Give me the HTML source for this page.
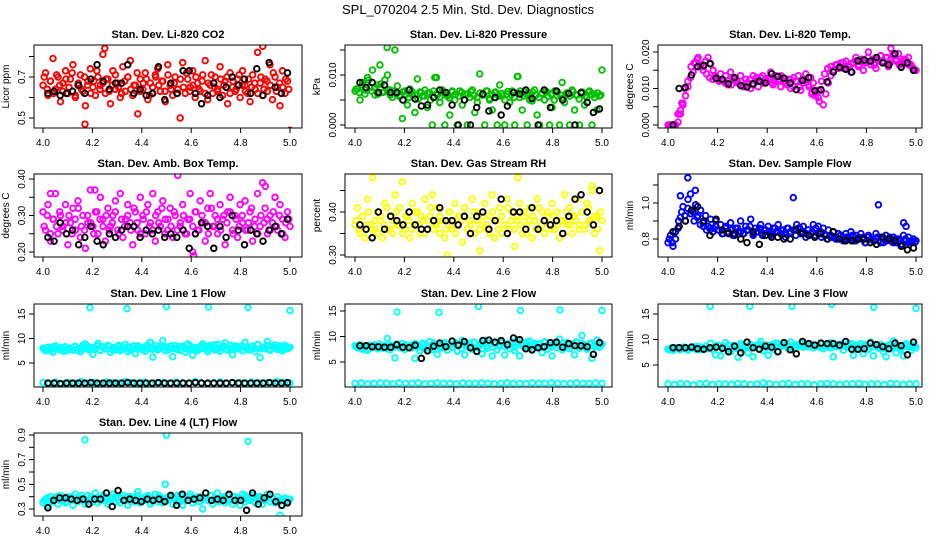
<!DOCTYPE html>
<html><head><meta charset="utf-8">
<style>
html,body{margin:0;padding:0;background:#fff;}
svg{display:block;font-family:"Liberation Sans",sans-serif;}
</style></head>
<body>
<svg id="chart" width="936" height="540" viewBox="0 0 936 540" xmlns="http://www.w3.org/2000/svg">
<rect x="0" y="0" width="936" height="540" fill="#fff"/>
<text x="468" y="14" text-anchor="middle" font-size="13">SPL_070204  2.5 Min. Std. Dev. Diagnostics</text>
</svg>
<script>
// ---- data arrays (y values; main series evenly spaced in time 4.0..5.0) ----
const co2Main=[0.66,0.72,0.61,0.68,0.79,0.64,0.70,0.58,0.67,0.73,0.62,0.69,0.76,0.60,0.66,0.71,0.63,0.56,0.68,0.74,0.65,0.61,0.70,0.66,0.81,0.62,0.69,0.57,0.73,0.64,0.67,0.60,0.75,0.63,0.70,0.78,0.61,0.66,0.52,0.69,0.64,0.72,0.59,0.67,0.62,0.71,0.74,0.63,0.68,0.58,0.76,0.66,0.61,0.70,0.64,0.50,0.77,0.62,0.69,0.65,0.73,0.60,0.67,0.63,0.71,0.78,0.59,0.66,0.62,0.70,0.64,0.75,0.61,0.68,0.57,0.72,0.65,0.63,0.69,0.60,0.73,0.66,0.62,0.58,0.71,0.64,0.82,0.67,0.61,0.69,0.63,0.76,0.59,0.70,0.65,0.56,0.73,0.62,0.68,0.44];
const co2MainB=[0.70,0.64,0.68,0.62,0.71,0.66,0.63,0.69,0.65,0.72,0.61,0.67,0.64,0.70,0.66,0.62,0.68,0.73,0.64,0.67,0.69,0.63,0.66,0.71,0.65,0.62,0.68,0.70,0.64,0.66,0.72,0.63,0.67,0.69,0.61,0.65,0.70,0.66,0.68,0.63,0.71,0.64,0.67,0.62,0.69,0.65,0.72,0.63,0.66,0.70,0.64,0.68,0.62,0.67,0.71,0.65,0.63,0.69,0.66,0.70,0.62,0.68,0.64,0.71,0.66,0.63,0.69,0.65,0.67,0.62,0.70,0.64,0.68,0.66,0.72,0.63,0.67,0.65,0.69,0.64];
const co2Black=[0.62,0.63,0.61,0.62,0.63,0.66,0.62,0.69,0.76,0.68,0.64,0.67,0.67,0.76,0.62,0.64,0.61,0.62,0.75,0.59,0.67,0.62,0.73,0.73,0.62,0.57,0.61,0.67,0.60,0.65,0.70,0.66,0.69,0.62,0.74,0.61,0.77,0.65,0.62,0.72];
const co2OutX=[4.17,4.25,4.89];
const co2OutY=[0.47,0.84,0.85];

const presMain=[0.0068,0.0072,0.0050,0.0085,0.0062,0.0095,0.0075,0.0110,0.0060,0.0080,0.0120,0.0065,0.0090,0.0100,0.0070,0.0055,0.0150,0.0078,0.0060,0.0013,0.0068,0.0040,0.0072,0.0060,0.0025,0.0092,0.0066,0.0058,0.0070,0.0035,0.0064,0.0000,0.0095,0.0060,0.0045,0.0070,0.0000,0.0058,0.0020,0.0066,0.0050,0.0000,0.0068,0.0040,0.0062,0.0000,0.0055,0.0070,0.0025,0.0045,0.0102,0.0060,0.0000,0.0068,0.0050,0.0030,0.0065,0.0000,0.0080,0.0058,0.0000,0.0062,0.0045,0.0068,0.0000,0.0097,0.0055,0.0030,0.0066,0.0000,0.0060,0.0048,0.0070,0.0020,0.0000,0.0062,0.0050,0.0066,0.0000,0.0035,0.0068,0.0058,0.0000,0.0085,0.0045,0.0062,0.0000,0.0070,0.0030,0.0060,0.0000,0.0066,0.0040,0.0055,0.0068,0.0000,0.0062,0.0030,0.0058,0.0110];
const presMainB=[0.0072,0.0065,0.0080,0.0070,0.0090,0.0068,0.0075,0.0062,0.0082,0.0066,0.0071,0.0060,0.0068,0.0063,0.0057,0.0066,0.0061,0.0055,0.0067,0.0060,0.0052,0.0065,0.0058,0.0063,0.0050,0.0068,0.0062,0.0056,0.0066,0.0060,0.0054,0.0068,0.0061,0.0058,0.0065,0.0050,0.0062,0.0067,0.0059,0.0055,0.0064,0.0060,0.0068,0.0053,0.0061,0.0066,0.0058,0.0063,0.0050,0.0067,0.0060,0.0055,0.0064,0.0068,0.0058,0.0062,0.0050,0.0066,0.0060,0.0055,0.0064,0.0068,0.0057,0.0062,0.0050,0.0066,0.0060,0.0054,0.0064,0.0058,0.0067,0.0060,0.0052,0.0064,0.0058,0.0066,0.0061,0.0055,0.0064,0.0060];
const presBlack=[0.0085,0.0075,0.0085,0.0065,0.0080,0.0065,0.0065,0.0050,0.0070,0.0052,0.0038,0.0040,0.0055,0.0070,0.0065,0.0040,0.0000,0.0050,0.0000,0.0035,0.0062,0.0028,0.0055,0.0020,0.0038,0.0065,0.0062,0.0070,0.0053,0.0000,0.0070,0.0035,0.0068,0.0050,0.0063,0.0000,0.0065,0.0045,0.0025,0.0032];
const presOutX=[4.13,4.33,4.66];
const presOutY=[0.0155,0.0095,0.0097];

const tempMain=[0,0,0,0,0.0008,0.004,0.0055,0.008,0.0105,0.013,0.0145,0.017,0.0185,0.0165,0.016,0.0175,0.0185,0.0168,0.015,0.0135,0.0125,0.014,0.012,0.0135,0.011,0.0145,0.013,0.012,0.0115,0.0135,0.0105,0.0125,0.0115,0.010,0.0135,0.012,0.0105,0.013,0.0115,0.012,0.0125,0.0145,0.011,0.0135,0.012,0.0105,0.013,0.0115,0.0125,0.010,0.0105,0.012,0.0135,0.0095,0.0125,0.014,0.011,0.0130,0.0115,0.009,0.0075,0.0095,0.0055,0.0085,0.0115,0.0135,0.015,0.0165,0.0155,0.017,0.0155,0.0175,0.016,0.0145,0.017,0.0185,0.016,0.0175,0.015,0.0175,0.020,0.0165,0.018,0.0155,0.0175,0.019,0.017,0.0185,0.016,0.021,0.019,0.0175,0.0195,0.0165,0.018,0.017,0.0185,0.0165,0.0155,0.015];
const tempMainB=[0,0,0,0.003,0.006,0.010,0.012,0.016,0.017,0.018,0.016,0.015,0.014,0.013,0.0125,0.013,0.012,0.0125,0.0115,0.012,0.011,0.0125,0.0115,0.012,0.0105,0.0115,0.0125,0.011,0.013,0.012,0.0135,0.0125,0.013,0.0115,0.012,0.0125,0.0135,0.012,0.011,0.0125,0.013,0.012,0.0105,0.0115,0.0125,0.0105,0.009,0.008,0.0095,0.012,0.014,0.0155,0.016,0.015,0.0165,0.016,0.017,0.0155,0.016,0.017,0.0175,0.0165,0.018,0.017,0.0185,0.0175,0.0165,0.018,0.019,0.0175,0.0185,0.017,0.0195,0.018,0.0165,0.0175,0.018,0.0165,0.016,0.015];
const tempBlack=[0,0.0100,0.0103,0.0137,0.0160,0.0163,0.0168,0.0128,0.0125,0.0113,0.0130,0.0108,0.0104,0.0113,0.0120,0.0115,0.0140,0.0133,0.0128,0.0115,0.0097,0.0122,0.0130,0.0094,0.0097,0.0118,0.0145,0.0158,0.0153,0.0145,0.0176,0.0178,0.0175,0.0185,0.0170,0.0165,0.0195,0.0158,0.0170,0.0150];
const tempOutX=[4.02,4.03,4.04,4.05,4.06,4.58,4.61];
const tempOutY=[0.0,0.0,0.003,0.003,0.006,0.0085,0.0065];

const ambMain=[0.31,0.26,0.33,0.23,0.29,0.36,0.25,0.30,0.27,0.33,0.22,0.28,0.32,0.26,0.34,0.24,0.30,0.21,0.28,0.37,0.27,0.31,0.25,0.35,0.29,0.23,0.32,0.27,0.30,0.34,0.26,0.36,0.24,0.29,0.33,0.28,0.22,0.31,0.26,0.35,0.30,0.25,0.33,0.28,0.36,0.23,0.31,0.27,0.34,0.29,0.26,0.32,0.24,0.30,0.41,0.27,0.33,0.25,0.29,0.36,0.20,0.31,0.26,0.34,0.28,0.23,0.32,0.36,0.27,0.30,0.25,0.33,0.29,0.22,0.31,0.35,0.26,0.30,0.24,0.33,0.28,0.34,0.26,0.31,0.23,0.29,0.36,0.27,0.39,0.32,0.25,0.30,0.28,0.35,0.26,0.33,0.29,0.24,0.31,0.27];
const ambMainB=[0.27,0.30,0.25,0.29,0.27,0.31,0.26,0.28,0.30,0.25,0.29,0.32,0.27,0.26,0.30,0.28,0.25,0.31,0.29,0.27,0.30,0.26,0.28,0.31,0.25,0.29,0.27,0.30,0.26,0.32,0.28,0.25,0.29,0.31,0.27,0.26,0.30,0.28,0.32,0.25,0.29,0.27,0.31,0.26,0.28,0.30,0.25,0.29,0.27,0.31,0.26,0.30,0.28,0.25,0.32,0.27,0.29,0.26,0.30,0.28,0.31,0.25,0.29,0.27,0.30,0.26,0.28,0.32,0.27,0.25,0.30,0.28,0.29,0.26,0.31,0.27,0.30,0.25,0.28,0.29];
const ambBlack=[0.24,0.23,0.28,0.25,0.26,0.22,0.24,0.27,0.23,0.22,0.25,0.24,0.26,0.27,0.27,0.24,0.26,0.25,0.26,0.24,0.25,0.24,0.26,0.21,0.25,0.28,0.27,0.21,0.27,0.24,0.30,0.26,0.22,0.26,0.25,0.23,0.26,0.27,0.25,0.29];
const ambOutX=[4.03,4.21,4.61,4.9];
const ambOutY=[0.36,0.37,0.19,0.38];

const rhMain=[0.37,0.41,0.35,0.39,0.34,0.43,0.37,0.48,0.36,0.40,0.38,0.34,0.42,0.36,0.39,0.35,0.44,0.37,0.41,0.47,0.36,0.39,0.34,0.42,0.37,0.40,0.35,0.38,0.43,0.36,0.39,0.44,0.37,0.41,0.35,0.38,0.34,0.30,0.40,0.36,0.42,0.37,0.39,0.33,0.41,0.36,0.38,0.43,0.35,0.40,0.31,0.37,0.42,0.36,0.39,0.44,0.34,0.38,0.41,0.35,0.37,0.43,0.36,0.40,0.32,0.38,0.42,0.35,0.39,0.37,0.41,0.34,0.38,0.43,0.36,0.40,0.35,0.39,0.37,0.42,0.36,0.40,0.34,0.38,0.44,0.37,0.41,0.35,0.39,0.43,0.37,0.40,0.36,0.42,0.38,0.45,0.35,0.39,0.31,0.38];
const rhMainB=[0.38,0.36,0.39,0.37,0.40,0.36,0.38,0.35,0.39,0.37,0.41,0.36,0.38,0.40,0.37,0.35,0.39,0.38,0.36,0.40,0.37,0.39,0.35,0.38,0.41,0.36,0.37,0.39,0.38,0.36,0.40,0.37,0.35,0.39,0.38,0.41,0.36,0.37,0.40,0.38,0.36,0.39,0.37,0.35,0.40,0.38,0.36,0.39,0.37,0.41,0.38,0.36,0.39,0.37,0.40,0.35,0.38,0.39,0.36,0.41,0.37,0.38,0.40,0.36,0.39,0.37,0.38,0.35,0.40,0.37,0.39,0.38,0.36,0.40,0.37,0.41,0.38,0.39,0.36,0.40];
const rhBlack=[0.37,0.36,0.34,0.40,0.36,0.39,0.38,0.37,0.40,0.37,0.36,0.36,0.38,0.41,0.38,0.38,0.37,0.39,0.35,0.39,0.40,0.36,0.38,0.43,0.35,0.40,0.40,0.36,0.41,0.36,0.38,0.37,0.38,0.35,0.39,0.43,0.44,0.40,0.37,0.45];
const rhOutX=[4.66,4.96];
const rhOutY=[0.48,0.46];

const flowMain=[0.78,0.82,0.76,0.80,0.86,0.92,0.98,0.90,1.02,1.05,0.95,0.99,0.93,0.96,0.89,0.93,0.87,0.91,0.86,0.90,0.85,0.88,0.83,0.87,0.84,0.89,0.82,0.86,0.84,0.90,0.83,0.87,0.85,0.91,0.82,0.86,0.84,0.88,0.83,0.85,0.87,0.82,0.86,0.84,0.88,0.83,0.85,0.81,0.86,0.84,1.03,0.82,0.86,0.83,0.87,0.81,0.85,0.83,0.88,0.86,0.87,0.84,0.86,0.82,0.85,0.81,0.84,0.80,0.83,0.82,0.80,0.83,0.81,0.84,0.79,0.82,0.80,0.83,0.81,0.78,0.82,0.80,0.79,0.83,0.99,0.81,0.78,0.82,0.80,0.79,0.81,0.78,0.80,0.77,0.82,0.79,0.81,0.78,0.80,0.79];
const flowMainB=[0.80,0.78,0.84,0.90,0.95,0.93,0.97,0.94,0.90,0.92,0.88,0.87,0.85,0.86,0.84,0.87,0.85,0.83,0.86,0.84,0.85,0.82,0.86,0.84,0.83,0.85,0.87,0.83,0.84,0.86,0.82,0.85,0.84,0.83,0.86,0.84,0.85,0.83,0.86,0.84,0.85,0.88,0.86,0.84,0.83,0.82,0.84,0.82,0.83,0.81,0.82,0.80,0.82,0.81,0.80,0.82,0.79,0.81,0.80,0.82,0.79,0.81,0.80,0.78,0.81,0.80,0.79,0.81,0.78,0.80,0.79,0.81,0.78,0.80,0.79,0.77,0.80,0.78,0.79,0.78];
const flowBlack=[0.84,0.87,0.90,0.96,0.98,0.90,0.82,0.91,0.85,0.83,0.83,0.80,0.78,0.84,0.77,0.82,0.81,0.81,0.80,0.80,0.85,0.83,0.82,0.81,0.83,0.80,0.84,0.80,0.79,0.79,0.80,0.80,0.78,0.77,0.81,0.80,0.79,0.76,0.74,0.75];
const flowOutX=[4.08,4.11,4.05,4.95,4.96];
const flowOutY=[1.14,1.07,1.04,0.89,0.87];

const line1Main=[8.0,7.5,8.2,7.8,7.2,8.5,7.9,8.1,7.4,8.3,7.7,8.0,7.6,8.4,7.9,7.3,8.6,8.9,7.8,8.2,6.8,8.0,9.0,7.6,8.3,7.9,8.6,7.2,8.1,7.7,8.4,7.5,8.0,8.8,7.3,8.2,7.8,6.9,8.5,7.9,8.1,7.4,8.7,9.2,6.2,8.0,7.7,8.4,9.6,7.5,8.2,7.9,6.3,8.6,8.0,7.6,8.3,7.2,8.9,7.8,6.6,8.1,7.5,8.4,8.9,7.9,7.3,8.6,8.0,7.7,8.8,7.4,8.2,9.1,7.6,8.0,6.7,8.5,7.9,8.3,7.5,9.2,8.1,7.7,8.4,7.3,8.8,6.1,8.2,7.9,9.4,7.6,8.3,8.7,7.8,8.1,7.5,8.6,7.9,8.2];
const line1MainB=[7.8,8.1,7.6,8.3,7.9,7.7,8.2,7.5,8.0,7.8,8.4,7.6,8.1,7.9,8.3,7.7,8.0,8.5,7.6,8.2,7.9,8.4,7.7,8.1,8.6,7.8,8.0,8.3,7.6,8.5,7.9,8.2,7.7,8.4,8.0,7.8,8.6,7.9,8.1,8.3,7.7,8.5,8.0,7.8,8.4,8.2,7.9,8.6,8.1,7.7,8.3,8.0,8.5,7.8,8.2,8.7,7.9,8.1,8.4,7.8,8.6,8.0,8.3,7.9,8.5,8.1,7.7,8.4,8.0,8.8,7.9,8.2,8.6,7.8,8.3,8.0,8.5,7.9,8.2,8.1];
const line1Low=[1.0,0.9,1.1,0.8,1.0,0.9,1.2,0.9,1.0,0.8,1.1,1.0,0.9,1.2,1.0,0.9,1.1,0.8,1.0,1.0,0.9,1.1,1.0,0.9,1.2,1.0,0.8,1.0,1.1,0.9,1.0,1.0,0.9,1.1,1.0,0.9,1.0,1.2,1.0,0.9];
const line1Black=[0.9,0.9,0.8,0.9,0.9,0.9,0.9,1.0,0.9,0.9,0.9,0.9,0.9,1.0,0.9,0.9,0.9,0.9,1.0,0.9,0.9,0.9,0.9,0.9,1.0,0.9,0.9,0.9,0.9,0.9,1.0,0.9,0.9,0.9,0.9,0.9,1.0,0.9,0.9,1.0];
const line1OutX=[4.19,4.34,4.5,4.67,4.83,5.0];
const line1OutY=[16.3,16.1,16.5,16.4,16.3,15.7];

const line2Main=[8.2,7.8,8.4,7.5,8.0,7.3,8.3,7.9,8.1,7.6,8.5,7.7,8.2,9.6,7.4,8.0,5.8,8.3,7.8,8.6,7.5,8.1,7.9,8.4,5.7,8.0,7.2,8.7,7.6,8.2,9.0,7.4,8.5,6.5,8.1,7.8,8.8,7.3,8.3,7.9,8.6,7.1,8.4,9.2,6.4,8.0,8.7,7.5,8.9,7.8,8.2,6.6,9.3,7.7,8.5,6.2,8.8,7.4,8.1,9.0,6.4,8.3,7.6,8.9,7.2,9.4,6.2,8.5,7.8,8.2,9.1,7.3,8.6,7.9,8.4,6.8,9.0,7.5,8.3,6.2,8.7,7.8,9.5,7.4,8.1,8.8,7.6,8.4,6.4,8.9,7.7,10.2,8.2,7.5,8.6,5.7,8.0,9.3,7.9,8.5];
const line2MainB=[8.0,8.3,7.9,8.2,7.7,8.1,8.4,7.8,8.0,8.2,7.6,8.3,7.9,8.5,8.0,7.7,8.4,8.1,7.8,8.6,8.2,7.9,8.5,8.0,7.7,8.7,8.3,7.8,8.6,8.1,8.4,7.9,8.8,8.2,7.7,8.5,8.3,8.0,8.9,7.8,8.4,8.6,8.1,8.7,7.9,8.5,8.2,8.8,8.0,8.6,8.3,7.9,8.7,8.4,8.1,8.9,7.8,8.5,8.2,8.6,8.0,8.8,8.3,7.9,8.6,8.4,8.1,8.7,7.8,8.5,8.2,8.9,8.0,8.6,8.3,7.9,8.7,8.4,8.1,8.6];
const line2Low=[0.8,0.9,0.7,0.8,0.9,0.8,0.7,0.9,0.8,0.8,0.9,0.7,0.8,0.9,0.8,0.8,0.7,0.9,0.8,0.8,0.9,0.8,0.7,0.8,0.9,0.8,0.8,0.7,0.9,0.8,0.8,0.9,0.8,0.7,0.8,0.9,0.8,0.8,0.9,0.8];
const line2Black=[8.2,8.2,8.0,8.0,7.9,7.9,8.4,7.9,7.8,8.3,5.7,7.2,8.1,8.7,8.0,9.1,8.3,9.0,7.8,7.1,9.2,9.3,8.9,9.2,8.4,9.7,9.4,7.6,7.4,7.8,8.0,8.8,8.9,7.9,8.6,8.2,8.2,8.0,6.5,8.8];
const line2OutX=[4.17,4.34,4.5,4.67,4.83,5.0];
const line2OutY=[14.8,14.7,15.9,15.1,15.2,15.1];

const line3Main=[8.1,8.3,7.9,8.4,8.2,8.0,8.5,8.2,7.9,8.3,8.4,8.1,8.6,8.0,8.3,8.7,8.2,9.3,8.0,7.0,8.9,6.8,8.5,9.4,8.1,7.6,8.8,8.3,6.5,9.2,8.0,8.6,7.4,9.0,6.6,8.7,8.2,9.6,7.8,8.4,6.9,8.9,8.1,9.3,7.6,8.6,8.8,9.0,8.2,9.5,8.4,8.9,8.7,9.2,8.5,9.0,8.6,9.1,8.4,8.8,8.7,9.3,8.2,8.9,8.5,9.4,6.6,8.6,8.8,9.1,7.9,8.7,9.3,8.3,6.9,8.9,8.4,9.2,7.2,8.6,8.1,9.5,6.8,8.7,8.3,9.0,7.6,6.6,8.9,8.2,9.7,7.4,8.8,8.1,6.8,9.2,8.5,7.9,8.9,8.4];
const line3MainB=[8.0,8.2,8.4,8.1,8.3,8.5,8.2,8.4,8.6,8.3,8.5,8.2,8.7,8.4,8.1,8.6,8.8,8.3,8.5,8.9,8.2,8.6,8.4,8.8,8.5,8.7,9.0,8.6,8.8,9.1,8.7,8.9,8.5,9.0,8.8,9.2,8.7,8.9,9.1,8.6,8.8,9.0,8.7,9.2,8.9,8.6,9.0,8.8,8.5,9.1,8.7,8.9,8.4,8.8,9.0,8.6,8.9,8.5,8.7,9.1,8.6,8.8,8.4,9.0,8.7,8.5,8.9,8.6,8.8,8.3,8.7,9.0,8.5,8.8,8.6,8.4,8.9,8.7,8.5,8.8];
const line3Low=[1.3,1.2,1.4,1.3,1.1,1.3,1.4,1.2,1.3,1.3,1.2,1.4,1.3,1.2,1.3,1.5,1.3,1.2,1.3,1.4,1.2,1.3,1.3,1.1,1.3,1.4,1.3,1.2,1.3,1.3,1.4,1.2,1.3,1.3,1.2,1.4,1.3,1.2,1.3,1.3];
const line3Black=[8.4,8.4,8.4,8.5,8.2,8.1,8.4,8.5,8.3,7.6,8.7,7.4,9.5,8.4,8.1,8.7,8.5,7.6,9.4,8.0,7.2,9.6,9.2,8.9,9.3,9.2,9.2,8.9,9.6,8.1,8.1,8.2,9.3,9.0,8.6,8.2,9.3,8.8,7.0,9.5];
const line3OutX=[4.17,4.33,4.5,4.66,4.83,5.0];
const line3OutY=[16.5,16.5,16.5,16.9,16.3,16.1];

const line4Main=[0.35,0.38,0.33,0.40,0.36,0.39,0.34,0.41,0.37,0.35,0.40,0.38,0.33,0.42,0.36,0.39,0.37,0.34,0.41,0.38,0.36,0.43,0.35,0.39,0.37,0.40,0.34,0.38,0.42,0.36,0.39,0.35,0.41,0.37,0.33,0.40,0.38,0.36,0.44,0.35,0.39,0.37,0.41,0.34,0.38,0.42,0.36,0.39,0.35,0.50,0.37,0.40,0.34,0.38,0.41,0.36,0.33,0.39,0.37,0.42,0.35,0.38,0.40,0.36,0.30,0.39,0.37,0.41,0.34,0.38,0.43,0.36,0.39,0.35,0.41,0.37,0.34,0.40,0.38,0.33,0.42,0.36,0.39,0.37,0.41,0.35,0.38,0.40,0.34,0.39,0.42,0.36,0.38,0.35,0.40,0.37,0.33,0.39,0.36,0.38];
const line4MainB=[0.37,0.39,0.36,0.38,0.40,0.37,0.39,0.36,0.38,0.40,0.37,0.39,0.41,0.38,0.36,0.40,0.38,0.39,0.37,0.41,0.38,0.36,0.39,0.40,0.37,0.39,0.38,0.40,0.36,0.39,0.41,0.38,0.37,0.40,0.39,0.36,0.38,0.41,0.39,0.37,0.40,0.38,0.39,0.36,0.41,0.38,0.37,0.40,0.39,0.38,0.36,0.40,0.39,0.37,0.41,0.38,0.36,0.39,0.40,0.37,0.38,0.40,0.36,0.39,0.38,0.41,0.37,0.39,0.36,0.40,0.38,0.37,0.39,0.36,0.38,0.37,0.36,0.38,0.37,0.38];
const line4Black=[0.31,0.37,0.39,0.39,0.38,0.37,0.38,0.34,0.38,0.38,0.43,0.32,0.45,0.37,0.38,0.37,0.36,0.38,0.37,0.38,0.36,0.41,0.33,0.42,0.37,0.38,0.39,0.43,0.37,0.38,0.37,0.42,0.37,0.37,0.29,0.43,0.34,0.39,0.42,0.36,0.33,0.35];
const line4OutX=[4.17,4.5,4.83,4.96];
const line4OutY=[0.86,0.90,0.85,0.25];

const xTickVals=[4.0,4.2,4.4,4.6,4.8,5.0];
const xTickLabels=["4.0","4.2","4.4","4.6","4.8","5.0"];

// ---- layout ----
const COLS=[{b0:34,b1:302,x4:43,x5:290},{b0:345,b1:612,x4:355,x5:602},{b0:658,b1:922,x4:668,x5:916}];
const ROWS=[{t:45,b:128},{t:174,b:257},{t:304,b:387},{t:433,b:516}];
const panels=[
 {id:'co2',title:'Stan. Dev. Li-820 CO2',ylab:'Licor ppm',c:0,r:0,col:'#ff0000',ya:[0.7,77],yb:[0.5,118],ticks:[0.5,0.6,0.7,0.8],labs:[[0.5,'0.5'],[0.7,'0.7']],main:co2Main,mainB:co2MainB,black:co2Black,ox:co2OutX,oy:co2OutY},
 {id:'pressure',title:'Stan. Dev. Li-820 Pressure',ylab:'kPa',c:1,r:0,col:'#00c000',ya:[0.010,75],yb:[0,125],ticks:[0,0.005,0.010,0.015],labs:[[0,'0.000'],[0.010,'0.010']],main:presMain,mainB:presMainB,black:presBlack,ox:presOutX,oy:presOutY},
 {id:'temp',title:'Stan. Dev. Li-820 Temp.',ylab:'degrees C',c:2,r:0,col:'#ff00ff',ya:[0.020,52],yb:[0,125],ticks:[0,0.005,0.010,0.015,0.020],labs:[[0,'0.000'],[0.010,'0.010'],[0.020,'0.020']],main:tempMain,mainB:tempMainB,black:tempBlack,ox:tempOutX,oy:tempOutY},
 {id:'amb-box-temp',title:'Stan. Dev. Amb. Box Temp.',ylab:'degrees C',c:0,r:1,col:'#ff00ff',ya:[0.40,179],yb:[0.20,252],ticks:[0.20,0.25,0.30,0.35,0.40],labs:[[0.2,'0.20'],[0.3,'0.30'],[0.4,'0.40']],main:ambMain,mainB:ambMainB,black:ambBlack,ox:ambOutX,oy:ambOutY},
 {id:'gas-rh',title:'Stan. Dev. Gas Stream RH',ylab:'percent',c:1,r:1,col:'#ffff00',ya:[0.40,212],yb:[0.30,255],ticks:[0.30,0.35,0.40,0.45],labs:[[0.3,'0.30'],[0.4,'0.40']],main:rhMain,mainB:rhMainB,black:rhBlack,ox:rhOutX,oy:rhOutY},
 {id:'sample-flow',title:'Stan. Dev. Sample Flow',ylab:'ml/min',c:2,r:1,col:'#0000ff',ya:[1.0,203],yb:[0.8,239],ticks:[0.8,0.9,1.0,1.1],labs:[[0.8,'0.8'],[1.0,'1.0']],main:flowMain,mainB:flowMainB,black:flowBlack,ox:flowOutX,oy:flowOutY},
 {id:'line1',title:'Stan. Dev. Line 1 Flow',ylab:'ml/min',c:0,r:2,col:'#00ffff',ya:[15,314],yb:[5,363],ticks:[5,10,15],labs:[[5,'5'],[10,'10'],[15,'15']],main:line1Main,mainB:line1MainB,low:line1Low,black:line1Black,ox:line1OutX,oy:line1OutY},
 {id:'line2',title:'Stan. Dev. Line 2 Flow',ylab:'ml/min',c:1,r:2,col:'#00ffff',ya:[15,311],yb:[5,362],ticks:[5,10,15],labs:[[5,'5'],[10,'10'],[15,'15']],main:line2Main,mainB:line2MainB,low:line2Low,black:line2Black,ox:line2OutX,oy:line2OutY},
 {id:'line3',title:'Stan. Dev. Line 3 Flow',ylab:'ml/min',c:2,r:2,col:'#00ffff',ya:[15,314],yb:[5,365],ticks:[5,10,15],labs:[[5,'5'],[10,'10'],[15,'15']],main:line3Main,mainB:line3MainB,low:line3Low,black:line3Black,ox:line3OutX,oy:line3OutY},
 {id:'line4',title:'Stan. Dev. Line 4 (LT) Flow',ylab:'ml/min',c:0,r:3,col:'#00ffff',ya:[0.9,435],yb:[0.3,509],ticks:[0.3,0.4,0.5,0.6,0.7,0.8,0.9],labs:[[0.3,'0.3'],[0.5,'0.5'],[0.7,'0.7'],[0.9,'0.9']],main:line4Main,mainB:line4MainB,black:line4Black,ox:line4OutX,oy:line4OutY}
];
const NS='http://www.w3.org/2000/svg';
const svg=document.getElementById('chart');
function mk(tag,attrs,parent){const e=document.createElementNS(NS,tag);for(const k in attrs)e.setAttribute(k,attrs[k]);parent.appendChild(e);return e;}

panels.forEach(p=>{
  const C=COLS[p.c],R=ROWS[p.r];
  const g=mk('g',{},svg);
  
  
  const xs=v=>C.x4+(v-4)*(C.x5-C.x4);
  const ys=v=>p.yb[1]+(v-p.yb[0])*(p.ya[1]-p.yb[1])/(p.ya[0]-p.yb[0]);
  const cid='clip-'+p.id;
  const cp=mk('clipPath',{id:cid},g);
  mk('rect',{x:C.b0,y:R.t,width:C.b1-C.b0,height:R.b-R.t},cp);
  const t=mk('text',{x:(C.b0+C.b1)/2,y:R.t-7,'text-anchor':'middle','font-size':'11','font-weight':'bold'},g);
  t.textContent=p.title;
  
  
  const yl=mk('text',{x:0,y:0,'text-anchor':'middle','font-size':'10',transform:`translate(${C.b0-25},${(R.t+R.b)/2}) rotate(-90)`},g);
  yl.textContent=p.ylab;
  
  
  p.ticks.forEach(v=>{
    const tk=mk('line',{x1:C.b0-5,x2:C.b0,y1:ys(v),y2:ys(v),stroke:'#000','stroke-width':1},g);
    
    
  });
  p.labs.forEach(([v,s])=>{
    const tl=mk('text',{x:0,y:0,'text-anchor':'middle','font-size':'10',transform:`translate(${C.b0-9},${ys(v)}) rotate(-90)`},g);
    tl.textContent=s;
    
    
  });
  xTickVals.forEach((v,i)=>{
    const tk=mk('line',{x1:xs(v),x2:xs(v),y1:R.b,y2:R.b+5,stroke:'#000','stroke-width':1},g);
    
    
    const tl=mk('text',{x:xs(v),y:R.b+18,'text-anchor':'middle','font-size':'10'},g);
    tl.textContent=xTickLabels[i];
    
    
  });
  const pg=mk('g',{'clip-path':`url(#${cid})`},g);
  
  
  function pt(x,y,col,nm){
    const c=mk('circle',{cx:xs(x).toFixed(1),cy:ys(y).toFixed(1),r:2.8,fill:'none',stroke:col,'stroke-width':1.9},pg);
    
    
  }
  if(p.low){p.low.forEach((v,i)=>pt(4+i/(p.low.length-1),v,p.col,'low-band-point'));}
  p.main.forEach((v,i)=>pt(4+i/(p.main.length-1),v,p.col,'data-point'));
  p.mainB.forEach((v,i)=>pt(4.005+0.99*i/(p.mainB.length-1),v,p.col,'data-point'));
  p.ox.forEach((x,i)=>pt(x,p.oy[i],p.col,'outlier-point'));
  p.black.forEach((v,i)=>pt(4.02+0.97*i/(p.black.length-1),v,'#000','reference-point'));
  const bx=mk('rect',{x:C.b0,y:R.t,width:C.b1-C.b0,height:R.b-R.t,fill:'none',stroke:'#000','stroke-width':1},g);
  
  
});
</script>
</body></html>
